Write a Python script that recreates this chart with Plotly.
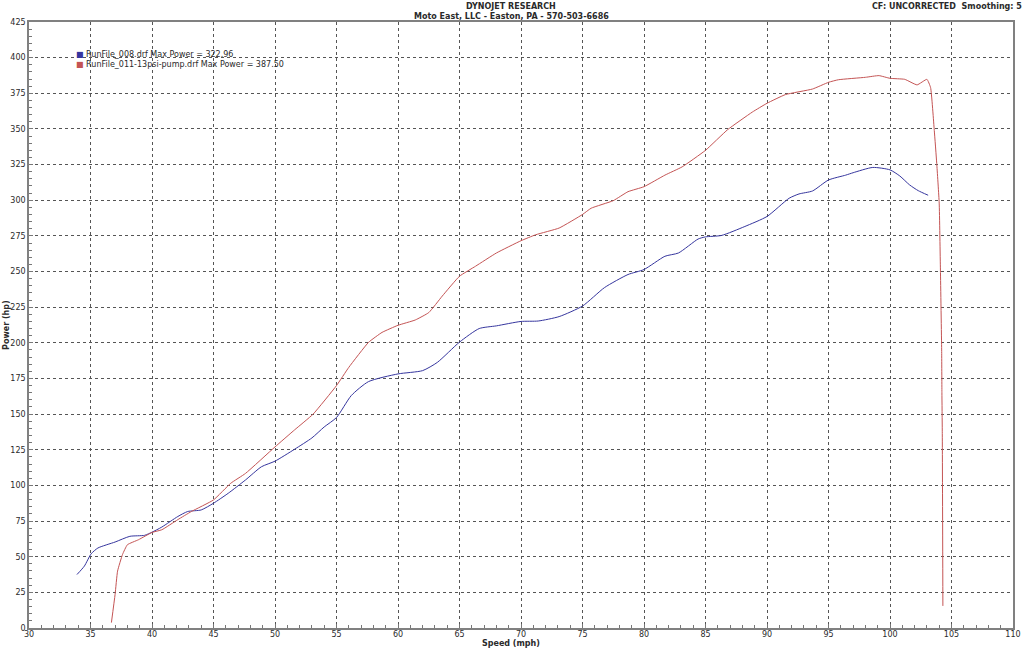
"""
Dynojet power run comparison (Power vs Speed)
"""

import plotly.graph_objects as go

# RunFile_008 (blue)
speed_008 = [33.9, 34.5, 35.05, 35.6, 37.0, 38.2, 39.4, 40.0, 40.8, 42.1, 42.9, 44.0,
             45.0, 46.2, 47.6, 48.9, 50.0, 51.6, 53.0, 54.0, 55.0, 56.2, 57.6, 60.0,
             62.0, 63.2, 65.0, 66.6, 68.0, 70.0, 71.4, 73.1, 75.0, 76.8, 78.7, 80.0,
             81.7, 82.8, 84.4, 85.0, 86.3, 88.2, 90.0, 91.8, 92.6, 93.7, 95.0, 96.4,
             97.0, 98.6, 100.0, 100.8, 101.6, 102.3, 103.1]
power_008 = [37.5, 43.4, 52.0, 56.1, 60.3, 64.3, 65.0, 67.2, 70.8, 78.2, 81.7, 82.8,
             87.5, 94.5, 103.8, 113.1, 117.0, 125.4, 133.3, 141.0, 147.6, 163.0, 172.8, 178.2,
             180.5, 186.3, 200.5, 210.0, 211.9, 215.0, 215.3, 218.4, 225.8, 238.8, 247.9, 251.4,
             260.7, 263.0, 272.8, 274.3, 275.3, 281.6, 288.6, 301.4, 304.4, 306.5, 314.2, 317.6,
             319.3, 323.0, 321.3, 317.0, 310.7, 306.7, 303.5]

# RunFile_011-13psi-pump (red)
speed_011 = [36.7, 37.0, 37.2, 37.6, 38.0, 38.9, 40.0, 40.8, 42.1, 43.2, 45.0, 46.4,
             47.6, 50.0, 51.6, 53.1, 55.0, 56.0, 57.6, 58.7, 60.0, 61.4, 62.5, 63.6,
             65.0, 66.3, 68.0, 70.0, 71.2, 73.1, 75.0, 75.7, 77.5, 78.7, 80.0, 81.7,
             83.1, 85.0, 86.8, 88.8, 90.0, 91.5, 93.7, 95.0, 95.8, 98.0, 99.1, 100.0,
             101.2, 102.2, 103.0, 103.3, 103.6, 103.8, 104.0, 104.1, 104.2, 104.22, 104.25, 104.3]
power_011 = [3.8, 23.6, 39.9, 51.5, 58.4, 61.9, 67.0, 68.9, 76.0, 81.7, 89.8, 101.5,
             108.4, 127.0, 139.0, 150.0, 170.0, 182.8, 200.3, 207.3, 212.3, 216.0, 221.2, 232.8,
             246.7, 253.7, 263.0, 271.6, 275.8, 280.5, 290.0, 294.4, 299.7, 306.0, 309.5, 317.6,
             323.4, 335.0, 349.5, 361.8, 368.0, 374.1, 378.0, 382.7, 384.5, 386.2, 387.4, 385.5,
             384.8, 380.9, 384.8, 379.0, 349.0, 325.8, 298.0, 251.0, 195.0, 165.0, 138.0, 15.5]

legend_names = ["RunFile_008.drf Max Power = 322.96",
                "RunFile_011-13psi-pump.drf Max Power = 387.50"]
blue = "#35359e"
red = "#c45454"

FONT = "DejaVu Sans"
TXT = "#2a2a2a"

fig = go.Figure()

fig.add_trace(go.Scatter(x=speed_008, y=power_008, mode="lines", name=legend_names[0],
                         line=dict(color=blue, width=1, shape="spline", smoothing=0.6),
                         showlegend=False))
fig.add_trace(go.Scatter(x=speed_011, y=power_011, mode="lines", name=legend_names[1],
                         line=dict(color=red, width=1, shape="spline", smoothing=0.4),
                         showlegend=False))

axis_common = dict(
    showline=True, linecolor="#808080", linewidth=1.5, mirror=True,
    showgrid=True, gridcolor="#555", griddash="dot", gridwidth=1,
    zeroline=False, ticks="inside", ticklen=4, tickcolor="#777",
    automargin=False,
    tickfont=dict(family=FONT, size=8, color=TXT),
)

fig.update_layout(
    width=1024, height=649,
    paper_bgcolor="white", plot_bgcolor="white",
    margin=dict(l=29, r=11, t=22, b=21),
    xaxis=dict(range=[30, 110], dtick=5, tick0=30, ticklabelstandoff=-2,
               minor=dict(dtick=1, ticks="inside", ticklen=3, tickcolor="#777", showgrid=False),
               **axis_common),
    yaxis=dict(range=[0, 425], dtick=25, tick0=0,
               minor=dict(dtick=5, ticks="inside", ticklen=3, tickcolor="#777", showgrid=False),
               **axis_common),
    showlegend=False,
)

# legend drawn as text with coloured square swatches
for i, (name, col) in enumerate(zip(legend_names, [blue, red])):
    fig.add_annotation(
        text=f'<span style="color:{col}">■</span> {name}',
        xref="paper", yref="paper", x=0.046, y=0.947 - i * 0.0165,
        xanchor="left", yanchor="middle", showarrow=False,
        font=dict(family=FONT, size=8, color=TXT))

fig.add_annotation(text="<b>DYNOJET RESEARCH</b>", xref="paper", yref="paper",
                   x=0.49, y=1.0264, yanchor="middle", showarrow=False,
                   font=dict(family=FONT, size=8, color=TXT))
fig.add_annotation(text="<b>Moto East, LLC - Easton, PA - 570-503-6686</b>", xref="paper", yref="paper",
                   x=0.49, y=1.0083, yanchor="middle", showarrow=False,
                   font=dict(family=FONT, size=8, color=TXT))
fig.add_annotation(text="<b>CF: UNCORRECTED  Smoothing: 5</b>", xref="paper", yref="paper",
                   x=1.011, y=1.0264, xanchor="right", yanchor="middle", showarrow=False,
                   font=dict(family=FONT, size=8, color=TXT))
fig.add_annotation(text="<b>Power (hp)</b>", xref="paper", yref="paper",
                   x=-0.0234, y=0.5, xanchor="center", textangle=-90, showarrow=False,
                   font=dict(family=FONT, size=8, color=TXT))
fig.add_annotation(text="<b>Speed (mph)</b>", xref="paper", yref="paper",
                   x=0.49, y=-0.0248, yanchor="middle", showarrow=False,
                   font=dict(family=FONT, size=8, color=TXT))

# drop the default page margin so the figure sits at the window's top-left corner
fig.write_html("out.html", config={"displayModeBar": False},
               post_script="document.body.style.margin='0';document.body.style.overflow='hidden';")
